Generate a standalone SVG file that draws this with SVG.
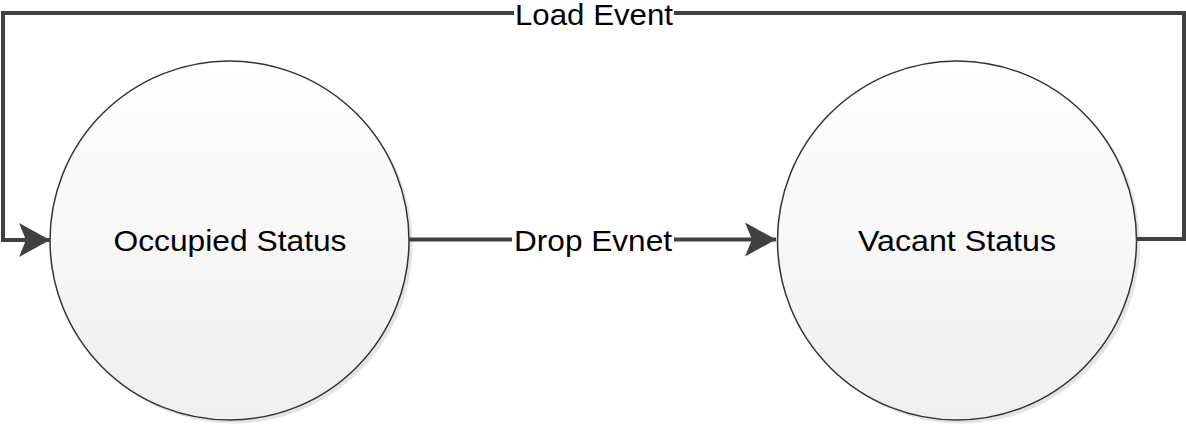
<svg xmlns="http://www.w3.org/2000/svg" width="1186" height="427" viewBox="0 0 1186 427">
  <defs>
    <linearGradient id="fillGrad" x1="0" y1="0" x2="0" y2="1">
      <stop offset="0" stop-color="#ffffff"/>
      <stop offset="1" stop-color="#efefef"/>
    </linearGradient>
    <marker id="arrow" markerUnits="userSpaceOnUse" markerWidth="32" markerHeight="34" refX="31" refY="17" orient="auto">
      <path d="M0,0 L31,17 L0,34 L7,17 Z" fill="#404040"/>
    </marker>
    <style>
      .node-shadow { fill: #e4e4e4; }
      .node { fill: url(#fillGrad); stroke: #333333; stroke-width: 1.5; }
      .conn { fill: none; stroke: #404040; stroke-width: 4; }
      .label { font-family: "Liberation Sans", Arial, sans-serif; font-size: 30px; fill: #000000; text-anchor: middle; }
      .lbg { fill: #ffffff; }
    </style>
  </defs>

  <g id="occupied">
    <circle class="node-shadow" cx="233" cy="244" r="179.5"/>
    <circle class="node" cx="229.5" cy="240.5" r="179.5"/>
    <text class="label" x="230" y="251" textLength="233" lengthAdjust="spacingAndGlyphs">Occupied Status</text>
  </g>

  <g id="vacant">
    <circle class="node-shadow" cx="960.5" cy="244" r="179.5"/>
    <circle class="node" cx="957" cy="240.5" r="179.5"/>
    <text class="label" x="957" y="251" textLength="198" lengthAdjust="spacingAndGlyphs">Vacant Status</text>
  </g>

  <g id="connectors">
    <path class="conn" d="M409,239.5 L776,239.5" marker-end="url(#arrow)"/>
    <path class="conn" d="M1136,239 L1184,239 L1184,13 L3,13 L3,240 L50,240" marker-end="url(#arrow)"/>
    <rect class="lbg" x="512" y="222" width="162" height="36"/>
    <text class="label" x="593" y="251" textLength="158" lengthAdjust="spacingAndGlyphs">Drop Evnet</text>
    <rect class="lbg" x="514" y="0" width="160" height="30"/>
    <text class="label" x="594" y="25" textLength="158" lengthAdjust="spacingAndGlyphs">Load Event</text>
  </g>
</svg>
